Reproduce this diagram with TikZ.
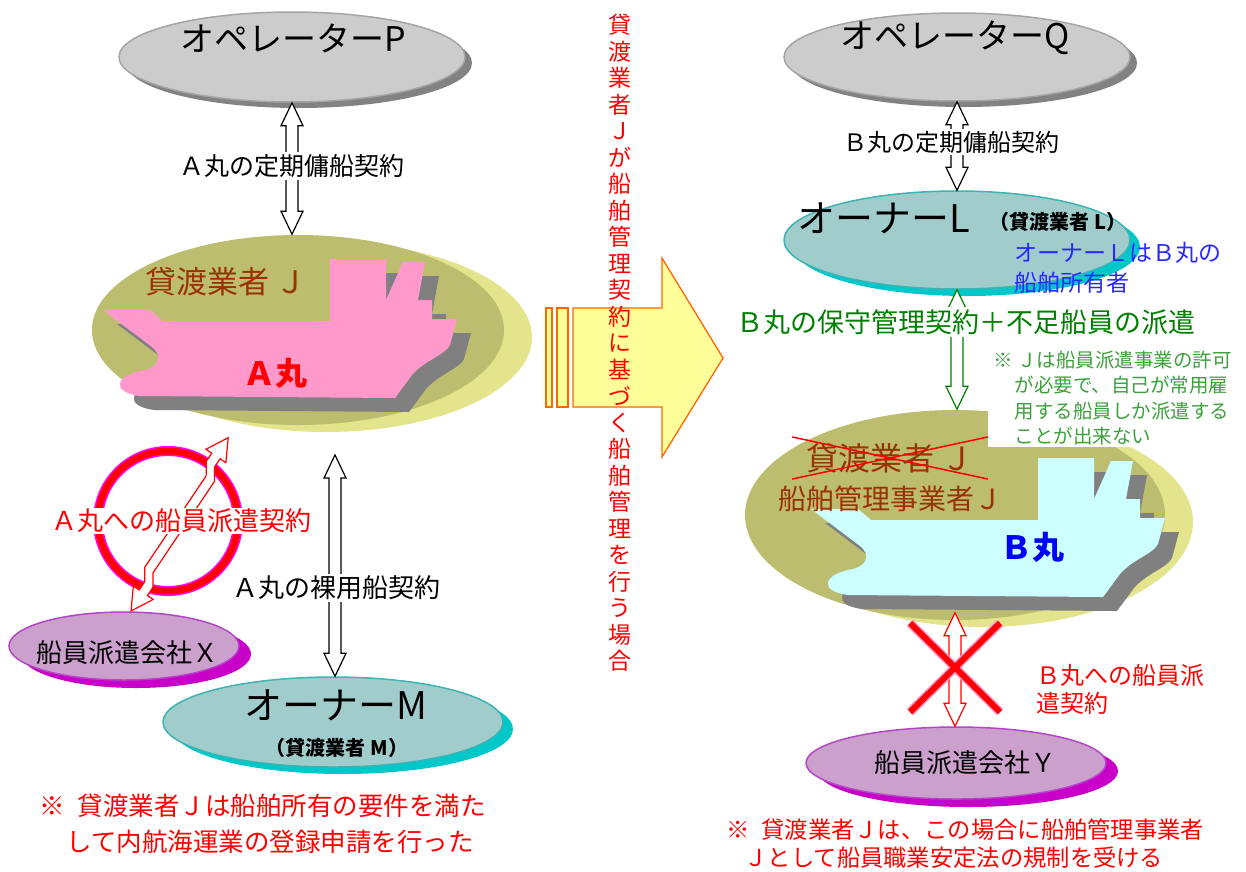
\documentclass[tikz,border=0pt]{standalone}
\usepackage{fontspec}
\setmainfont{Noto Sans CJK JP}
\usetikzlibrary{shapes.geometric,shadows,calc}

\definecolor{opface}{RGB}{204,204,204}
\definecolor{opedge}{RGB}{165,165,165}
\definecolor{opshade}{RGB}{130,130,130}
\definecolor{ownface}{RGB}{160,204,204}
\definecolor{ownedge}{RGB}{60,180,180}
\definecolor{ownshade}{RGB}{0,200,200}
\definecolor{crewface}{RGB}{204,160,204}
\definecolor{crewedge}{RGB}{180,70,200}
\definecolor{crewshade}{RGB}{200,0,200}
\definecolor{jface}{RGB}{189,189,111}
\definecolor{jside}{RGB}{228,228,140}
\definecolor{hullpink}{RGB}{255,153,204}
\definecolor{hullcyan}{RGB}{204,255,255}
\definecolor{hullshade}{RGB}{128,128,128}
\definecolor{rust}{RGB}{153,51,0}
\definecolor{leafgreen}{RGB}{0,128,0}
\definecolor{notegreen}{RGB}{60,160,60}
\definecolor{noteblue}{RGB}{40,40,255}
\definecolor{padfill}{RGB}{255,255,153}
\definecolor{padedge}{RGB}{255,102,0}
\definecolor{ringpink}{RGB}{255,0,255}
\definecolor{glow}{RGB}{255,150,200}

\tikzset{
  fs/.style 2 args={font=\fontsize{#1}{#2}\selectfont},
  oval/.style={ellipse, inner sep=0pt, line width=1.5pt},
  opbox/.style={oval, draw=opedge, fill=opface,
    drop shadow={shadow xshift=7pt, shadow yshift=-6pt, fill=opshade, opacity=1}},
  ownerbox/.style={oval, draw=ownedge, fill=ownface,
    drop shadow={shadow xshift=10pt, shadow yshift=-7pt, fill=ownshade, opacity=1}},
  crewbox/.style={oval, draw=crewedge, fill=crewface,
    drop shadow={shadow xshift=12pt, shadow yshift=-8pt, fill=crewshade, opacity=1}},
  jbox/.style={oval, fill=jface,
    drop shadow={shadow xshift=28pt, shadow yshift=-7pt, fill=jside, opacity=1}},
  deal/.style={fs={25}{30}, fill=white, inner sep=2pt},
  hollow/.style={draw=black, fill=white, line width=1.2pt},
  bigarrow/.style={fill=padfill, draw=padedge, line width=1.3pt},
}

% hull of a ship, drawn at the A position
\newcommand{\shiphull}{(103,310) -- (150,310) -- (163,321) -- (330,321) -- (330,259)
  -- (386,259) -- (386,300) -- (403,262) -- (425,262) -- (418,300) -- (432,300)
  -- (432,319) -- (457,319) -- (450,345) .. controls (445,355) and (425,360) .. (412,375)
  -- (395,398) -- (140,396) .. controls (110,392) and (115,375) .. (145,370)
  .. controls (160,366) and (162,355) .. (152,347) -- cycle}

% vertical two-headed hollow arrow from #2 (top) down to #3
\newcommand{\twoway}[3][]{%
  \draw[hollow,#1] let \p1=(#2), \p2=(#3) in
    (\x1,\y1) -- ({\x1+11pt},{\y1-23pt}) -- ({\x1+6pt},{\y1-23pt})
    -- ({\x1+6pt},{\y2+23pt}) -- ({\x1+11pt},{\y2+23pt}) -- (\x1,\y2)
    -- ({\x1-11pt},{\y2+23pt}) -- ({\x1-6pt},{\y2+23pt})
    -- ({\x1-6pt},{\y1-23pt}) -- ({\x1-11pt},{\y1-23pt}) -- cycle;}

\begin{document}
\begin{tikzpicture}[x=1pt,y=-1pt]
\useasboundingbox (0,0) rectangle (1246,871);

% parties
\node[opbox, minimum width=346pt, minimum height=90pt] (opP) at (292,57) {};
\node[opbox, minimum width=346pt, minimum height=88pt] (opQ) at (957,57) {};
\node[jbox, minimum width=412pt, minimum height=190pt] (ellJ) at (298,330) {};
\node[jbox, minimum width=420pt, minimum height=210pt] (ellB) at (955,515) {};
\node[ownerbox, minimum width=340pt, minimum height=90pt] (ellM) at (333,722) {};
\node[ownerbox, minimum width=346pt, minimum height=98pt] (ellL) at (957,240) {};
\node[crewbox, minimum width=230pt, minimum height=68pt] (ellX) at (124,646) {};
\node[crewbox, minimum width=300pt, minimum height=72pt] (ellY) at (956,763) {};

% the two ships
\fill[hullshade, shift={(14,14)}] \shiphull;
\fill[hullpink] \shiphull;
\begin{scope}[shift={(708,199)}]
\fill[hullshade, shift={(14,14)}] \shiphull;
\fill[hullcyan] \shiphull;
\end{scope}

\fill[white] (988,343) rectangle (1246,447);

% names
\node[fs={34}{40}] at (293,38) {オペレーターP};
\node[fs={34}{40}] at (955,38) {オペレーターQ};
\node[fs={31}{36}, text=rust] at (226,282) {貸渡業者 Ｊ};
\node[fs={32}{36}, text=red] at (275,373) {\bfseries Ａ丸};
\node[fs={38}{42}] at (336,705) {オーナーM};
\node[fs={20}{24}] at (337,748) {\bfseries （貸渡業者 M）};
\node[fs={38}{42}] at (884,218) {オーナーL};
\node[fs={20}{24}] at (1058,222) {\bfseries （貸渡業者 L）};
\node[fs={23}{30}, text=noteblue, align=left, anchor=west] at (1011,268) {オーナーＬはＢ丸の\\船舶所有者};
\node[fs={26}{30}] at (127,653) {船員派遣会社Ｘ};
\node[fs={26}{30}] at (965,763) {船員派遣会社Ｙ};
\node[fs={32}{36}, text=rust, inner sep=0pt] (oldJ) at (890,458) {貸渡業者 Ｊ};
\node[fs={28}{32}, text=rust] at (890,499) {船舶管理事業者Ｊ};
\node[fs={32}{36}, text=blue] at (1032,547) {\bfseries Ｂ丸};
\draw[red, line width=1.5pt] ([shift={(-14pt,6pt)}]oldJ.north west) -- ([shift={(14pt,-6pt)}]oldJ.south east);
\draw[red, line width=1.5pt] ([shift={(-14pt,-6pt)}]oldJ.south west) -- ([shift={(14pt,6pt)}]oldJ.north east);

% green remark
\node[fs={19.5}{25.5}, text=notegreen, align=left, anchor=west] at (990,398)
  {※ Ｊは船員派遣事業の許可\\\hspace*{21pt}が必要で、自己が常用雇\\\hspace*{21pt}用する船員しか派遣する\\\hspace*{21pt}ことが出来ない};

% big arrow across the middle
\draw[bigarrow] (573,308) -- (662,308) -- (662,258) -- (723,358) -- (662,457) -- (662,407) -- (573,407) -- cycle;
\draw[bigarrow] (546,308) rectangle (552,407);
\draw[bigarrow] (557,308) rectangle (568,407);
\foreach \c [count=\i from 0] in {貸,渡,業,者,Ｊ,が,船,舶,管,理,契,約,に,基,づ,く,船,舶,管,理,を,行,う,場,合}
  \node[fs={23}{23}, text=red] at (620,{25+26.5*\i}) {\c};

% crew dispatch for A
\draw[ringpink, line width=10pt] (168,521) circle[radius=70];
\draw[red, line width=7pt] (168,521) circle[radius=70];
\begin{scope}[shift={(124.4,606.5)}, rotate=56.1]
\draw[red, fill=white, line width=1.2pt] (0,8) -- (22,20) -- (22,13) -- (32,13) -- (44,5)
  -- (154,5) -- (166,-3) -- (176,-3) -- (176,4) -- (198,-8) -- (176,-20) -- (176,-13)
  -- (166,-13) -- (154,-5) -- (44,-5) -- (32,3) -- (22,3) -- (22,-4) -- cycle;
\end{scope}
\node[fs={26}{30}, text=red, fill=white, inner sep=1pt] at (181,521) {Ａ丸への船員派遣契約};

% contracts
\coordinate (jmtop) at (335,455);
\twoway{opP.south}{ellJ.north}
\node[deal] at (292,166) {Ａ丸の定期傭船契約};
\twoway{jmtop}{ellM.north}
\node[deal, fs={26}{30}] at (336,588) {Ａ丸の裸用船契約};
\twoway{opQ.south}{ellL.north}
\node[deal, fs={24}{28}] at (951,142) {Ｂ丸の定期傭船契約};
\twoway[draw=leafgreen]{ellL.south}{ellB.north}
\node[deal, fs={27}{30}, text=leafgreen] at (966,322) {Ｂ丸の保守管理契約＋不足船員の派遣};
\twoway[draw=red]{[yshift=8pt]ellB.south}{ellY.north}
\draw[glow, line width=9pt] (910,623) -- (1000,712) (1000,623) -- (910,712);
\draw[red, line width=6pt] (910,623) -- (1000,712) (1000,623) -- (910,712);
\node[fs={24}{28}, text=red, align=left, anchor=west] at (1033,689) {Ｂ丸への船員派\\遣契約};

% notes at the bottom
\node[fs={25.5}{36}, text=red, align=left, anchor=west] at (36,824)
  {※\enspace 貸渡業者Ｊは船舶所有の要件を満た\\\hspace*{27pt}して内航海運業の登録申請を行った};
\node[fs={23.3}{28}, text=red, align=left, anchor=west] at (723,844)
  {※\enspace 貸渡業者Ｊは、この場合に船舶管理事業者\\\hspace*{18pt}Ｊとして船員職業安定法の規制を受ける};

\end{tikzpicture}
\end{document}
